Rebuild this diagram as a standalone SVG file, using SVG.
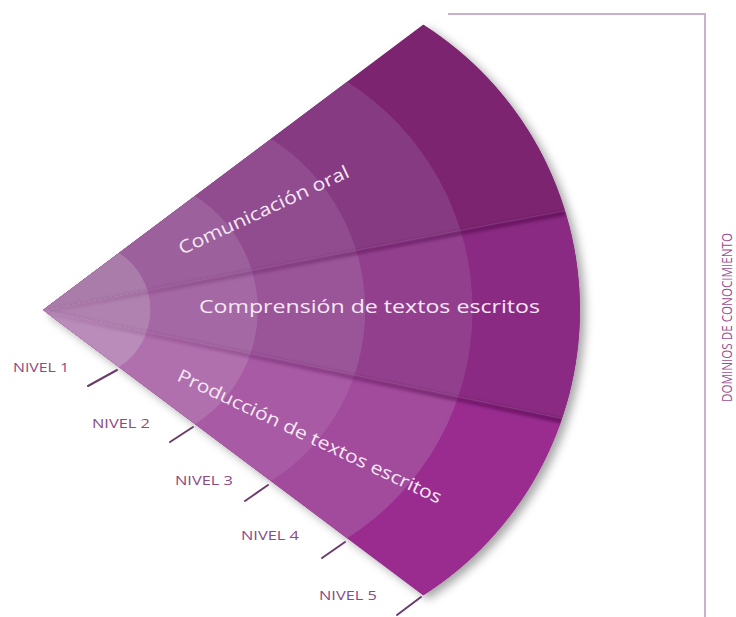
<svg xmlns="http://www.w3.org/2000/svg" width="736" height="617" viewBox="0 0 736 617">
<defs>
<style>
.lbl{font-family:"Open Sans","Noto Sans",sans-serif;font-size:12.5px;fill:#8a4a84;}
.dom{font-family:"Open Sans","Noto Sans",sans-serif;fill:#f6e8f6;font-size:18px;}
.tick{stroke:#6b3c69;stroke-width:2;stroke-linecap:round;fill:none;}
.frame{stroke:#cbb0cd;stroke-width:2;fill:none;}
.div{stroke:url(#dg);stroke-width:5;fill:none;filter:url(#bl);}
.divl{stroke:#ffffff;stroke-opacity:0.12;stroke-width:1.2;fill:none;}
</style>
<path id="fan" d="M43 310 L423.3 24.8 A338 338 0 0 1 423.3 595.2 Z"/>
<clipPath id="cu"><polygon points="43,310 760,-400 760,174"/></clipPath>
<clipPath id="cm"><polygon points="43,310 760,174 760,461"/></clipPath>
<clipPath id="cl"><polygon points="43,310 760,461 760,1000"/></clipPath>
<clipPath id="cf"><use href="#fan"/></clipPath>
<linearGradient id="dg" gradientUnits="userSpaceOnUse" x1="43" y1="310" x2="565" y2="310">
<stop offset="0" stop-color="#4a0a44" stop-opacity="0.05"/>
<stop offset="1" stop-color="#4a0a44" stop-opacity="0.55"/>
</linearGradient>
<filter id="sh" x="-10%" y="-10%" width="130%" height="130%"><feDropShadow dx="5" dy="4" stdDeviation="5" flood-color="#000" flood-opacity="0.35"/></filter>
<filter id="bl" x="-5%" y="-50%" width="110%" height="200%"><feGaussianBlur stdDeviation="1.6"/></filter>
</defs>

<g id="fan-shadow"><use href="#fan" fill="#7c2470" filter="url(#sh)"/></g>

<g id="sector-comunicacion" clip-path="url(#cu)">
<use href="#fan" fill="#7c2470"/>
<use href="#fan" fill="#863a82" transform="matrix(0.8 0 0 0.8 8.6 62)"/>
<use href="#fan" fill="#914c90" transform="matrix(0.6 0 0 0.6 17.2 124)"/>
<use href="#fan" fill="#9c609c" transform="matrix(0.4 0 0 0.4 25.8 186)"/>
<use href="#fan" fill="#aa7caa" transform="matrix(0.2 0 0 0.2 34.4 248)"/>
</g>
<g id="sector-comprension" clip-path="url(#cm)">
<use href="#fan" fill="#8a2a82"/>
<use href="#fan" fill="#92408e" transform="matrix(0.8 0 0 0.8 8.6 62)"/>
<use href="#fan" fill="#9a5498" transform="matrix(0.6 0 0 0.6 17.2 124)"/>
<use href="#fan" fill="#a468a4" transform="matrix(0.4 0 0 0.4 25.8 186)"/>
<use href="#fan" fill="#b082b0" transform="matrix(0.2 0 0 0.2 34.4 248)"/>
</g>
<g id="sector-produccion" clip-path="url(#cl)">
<use href="#fan" fill="#9a2c90"/>
<use href="#fan" fill="#a24a9c" transform="matrix(0.8 0 0 0.8 8.6 62)"/>
<use href="#fan" fill="#a85aa4" transform="matrix(0.6 0 0 0.6 17.2 124)"/>
<use href="#fan" fill="#b070ae" transform="matrix(0.4 0 0 0.4 25.8 186)"/>
<use href="#fan" fill="#b98cb9" transform="matrix(0.2 0 0 0.2 34.4 248)"/>
</g>

<g id="connectors">
<g clip-path="url(#cf)">
<line class="div" x1="43" y1="312" x2="565" y2="213"/>
<line class="div" x1="43" y1="312" x2="562" y2="421"/>
<line class="divl" x1="43" y1="310" x2="565" y2="210.5"/>
<line class="divl" x1="43" y1="310" x2="562" y2="418.5"/>
</g>
<line class="tick" x1="117" y1="370" x2="88" y2="386"/>
<line class="tick" x1="193" y1="427" x2="170" y2="442"/>
<line class="tick" x1="268" y1="485" x2="245" y2="501"/>
<line class="tick" x1="345" y1="542" x2="322" y2="558"/>
<line class="tick" x1="421" y1="597" x2="397" y2="615"/>
<polyline class="frame" points="448,14 705,14 705,617"/>
</g>

<g id="label-comunicacion"><text class="dom" transform="translate(182 255) rotate(-25)" textLength="186" lengthAdjust="spacingAndGlyphs">Comunicación oral</text></g>
<g id="label-comprension"><text class="dom" x="199" y="313" font-size="19" textLength="341" lengthAdjust="spacingAndGlyphs">Comprensión de textos escritos</text></g>
<g id="label-produccion"><text class="dom" transform="translate(176 380) rotate(25.3)" textLength="290" lengthAdjust="spacingAndGlyphs">Producción de textos escritos</text></g>

<g id="nivel-1"><text class="lbl" x="13" y="372" textLength="56" lengthAdjust="spacingAndGlyphs">NIVEL 1</text></g>
<g id="nivel-2"><text class="lbl" x="92" y="428" textLength="58" lengthAdjust="spacingAndGlyphs">NIVEL 2</text></g>
<g id="nivel-3"><text class="lbl" x="175" y="485" textLength="58" lengthAdjust="spacingAndGlyphs">NIVEL 3</text></g>
<g id="nivel-4"><text class="lbl" x="241" y="540" textLength="58" lengthAdjust="spacingAndGlyphs">NIVEL 4</text></g>
<g id="nivel-5"><text class="lbl" x="319" y="600" textLength="58" lengthAdjust="spacingAndGlyphs">NIVEL 5</text></g>

<g id="dominios"><text transform="translate(732 402) rotate(-90)" font-family="'Liberation Sans Narrow','Open Sans',sans-serif" font-size="14" fill="#9a4e92" textLength="169" lengthAdjust="spacingAndGlyphs">DOMINIOS DE CONOCIMIENTO</text></g>
</svg>
